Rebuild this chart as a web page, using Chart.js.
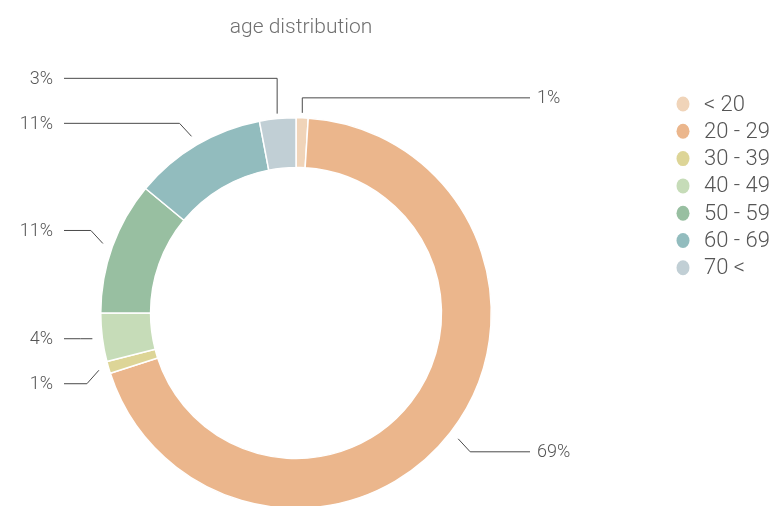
<!DOCTYPE html>
<html>
<head>
<meta charset="utf-8">
<title>age distribution</title>
<script src="https://cdn.jsdelivr.net/npm/chart.js@4/dist/chart.umd.min.js"></script>
<style>
  html, body { margin: 0; padding: 0; background: #fff; overflow: hidden; }
  #wrap { width: 777px; height: 520px; }
</style>
</head>
<body>
<div id="wrap"><canvas id="c" width="777" height="520"></canvas></div>
<script>
// Age groups and their share of the total
const ageGroups = ['< 20', '20 - 29', '30 - 39', '40 - 49', '50 - 59', '60 - 69', '70 <'];
const shares = [1, 69, 1, 4, 11, 11, 3];
const groupColors = ['#F0D4B9', '#EBB68C', '#DDD597', '#C6DCB8', '#98BFA1', '#92BCBE', '#C1CFD5'];
const chartTitle = 'age distribution';

const FONT = "Roboto, 'Liberation Sans', sans-serif";
const LABEL_GAP = 45;

// Keep labels on one side at least LABEL_GAP apart, pushing them
// away from the horizontal centre line of the ring.
function spread(list, cy) {
  const above = list.filter(o => o.ly < cy).sort((a, b) => b.ly - a.ly);
  const below = list.filter(o => o.ly >= cy).sort((a, b) => a.ly - b.ly);
  for (let k = 1; k < above.length; k++) {
    above[k].ly = Math.min(above[k].ly, above[k - 1].ly - LABEL_GAP);
  }
  for (let k = 1; k < below.length; k++) {
    below[k].ly = Math.max(below[k].ly, below[k - 1].ly + LABEL_GAP);
  }
}

// Title, percentage call-outs with elbow leader lines, and the legend
const decorations = {
  id: 'decorations',
  afterDraw(chart) {
    const ctx = chart.ctx;
    const area = chart.chartArea;
    const meta = chart.getDatasetMeta(0);
    const data = chart.data.datasets[0].data;
    const total = data.reduce((a, b) => a + b, 0);
    ctx.save();

    // title
    ctx.fillStyle = '#707070';
    ctx.font = '300 21px ' + FONT;
    ctx.textAlign = 'center';
    ctx.textBaseline = 'middle';
    ctx.fillText(chartTitle, (area.left + area.right) / 2 + 5, 28);

    // call-outs: short vertical, diagonal or horizontal stub, then a flat leader
    let cy = 0;
    const items = meta.data.map((arc, i) => {
      const p = arc.getProps(['x', 'y', 'startAngle', 'endAngle', 'outerRadius'], true);
      cy = p.y;
      const mid = (p.startAngle + p.endAngle) / 2;
      const cos = Math.cos(mid), sin = Math.sin(mid);
      const vertical = Math.abs(cos) < 0.2;
      const r0 = p.outerRadius + (vertical ? 5 : 10);
      const sx = p.x + cos * r0, sy = p.y + sin * r0;
      let dx, dy;
      if (vertical) { dx = 0; dy = 15 * Math.sign(sin); }
      else if (Math.abs(sin) < 0.2) { dx = 12 * Math.sign(cos); dy = 0; }
      else { dx = 12 * Math.sign(cos); dy = 13 * Math.sign(sin); }
      return { i, cx: p.x, right: cos >= 0, sx, sy, ex: sx + dx, ly: sy + dy };
    });
    [true, false].forEach(side => spread(items.filter(o => o.right === side), cy));

    ctx.strokeStyle = '#4a4a4a';
    ctx.lineWidth = 1;
    ctx.fillStyle = '#555';
    ctx.font = '300 18px ' + FONT;
    items.forEach(o => {
      const endX = o.right ? o.cx + 234 : o.cx - 232;
      ctx.beginPath();
      ctx.moveTo(o.sx, o.sy);
      ctx.lineTo(o.ex, o.ly);
      ctx.lineTo(endX, o.ly);
      ctx.stroke();
      const pct = Math.round(data[o.i] / total * 100) + '%';
      ctx.textAlign = o.right ? 'left' : 'right';
      ctx.fillText(pct, o.right ? endX + 7 : endX - 11, o.ly + 1);
    });

    // legend
    ctx.font = '300 22px ' + FONT;
    ctx.textAlign = 'left';
    chart.data.labels.forEach((lab, i) => {
      const y = 104 + i * 27.3;
      ctx.fillStyle = chart.data.datasets[0].backgroundColor[i];
      ctx.beginPath();
      ctx.ellipse(683, y, 6.5, 7.5, 0, 0, Math.PI * 2);
      ctx.fill();
      ctx.fillStyle = '#555';
      ctx.fillText(lab, 704, y + 1);
    });
    ctx.restore();
  }
};

new Chart(document.getElementById('c'), {
  type: 'doughnut',
  data: {
    labels: ageGroups,
    datasets: [{
      data: shares,
      backgroundColor: groupColors,
      borderColor: '#ffffff',
      borderWidth: 1.5
    }]
  },
  options: {
    responsive: false,
    animation: false,
    cutout: '74.5%',
    layout: { padding: { left: 100, right: 285, top: 117, bottom: 11 } },
    plugins: {
      legend: { display: false },
      title: { display: false },
      tooltip: { enabled: false }
    }
  },
  plugins: [decorations]
});
</script>
</body>
</html>
